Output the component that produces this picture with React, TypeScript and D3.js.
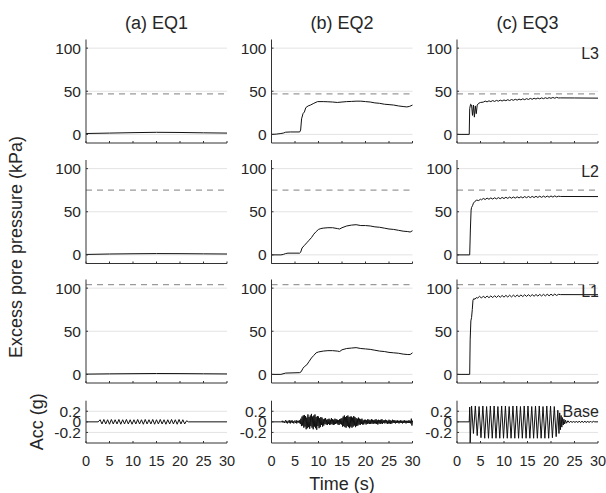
import React from 'react';
import * as d3 from 'd3';

// ---------- data ----------
const timeTicks = [0, 5, 10, 15, 20, 25, 30];
const ppTicks = [0, 50, 100];
const accTicks = [-0.2, 0, 0.2];
const accTickLabels = ['-0.2', '0', '0.2'];
const columnTitles = ['(a) EQ1', '(b) EQ2', '(c) EQ3'];
const layerLabels = ['L3', 'L2', 'L1'];
const baseLabel = 'Base';
const initialStress = [47, 75, 104]; // dashed reference lines per layer (kPa)

// EQ1 excess pore pressure [t (s), kPa]
const eq1L3: [number, number][] = [[0, 1], [5, 1.5], [10, 2], [15, 2.4], [20, 2.2], [25, 1.8], [30, 1.5]];
const eq1L2: [number, number][] = [[0, 0.5], [5, 1], [10, 1.3], [15, 1.5], [20, 1.4], [25, 1.2], [30, 1]];
const eq1L1: [number, number][] = [[0, 0.3], [5, 0.6], [10, 0.8], [15, 1], [20, 0.9], [25, 0.7], [30, 0.5]];

// EQ2 excess pore pressure
const eq2L3: [number, number][] = [
  [0, 0], [1, 0.3], [2, 1], [2.5, 1.5], [3, 2.5], [4, 2.8], [5, 2.8], [6, 2.8], [6.2, 5], [6.4, 18], [6.7, 24],
  [7, 26], [7.3, 31], [7.8, 33], [8.3, 34], [9, 36], [9.8, 38], [11, 38], [12, 37.8], [13, 37.5], [14, 37],
  [15, 37.5], [16, 38], [17, 38.2], [18, 38.5], [19, 38.5], [20, 38], [21, 37.5], [22, 36.5], [23, 36], [24, 35],
  [25, 34.5], [26, 34], [27, 33], [28, 32.3], [28.8, 31.8], [29.4, 32.5], [30, 34],
];
const eq2L2: [number, number][] = [
  [0, 0], [2, 0], [2.5, 0.5], [3, 1.5], [3.5, 2], [6, 2], [6.2, 3], [6.5, 8], [7, 11], [7.5, 14], [8, 17],
  [8.5, 20], [9, 24], [9.5, 27], [10, 29.5], [10.5, 30.5], [11, 31], [12, 31.5], [13, 31.5], [14, 30.5],
  [14.5, 30], [15, 31.5], [16, 33.5], [17, 34.5], [18, 35], [19, 34], [20, 34], [21, 33.5], [22, 32.5],
  [23, 32], [24, 31], [25, 30], [26, 29.5], [27, 28.5], [28, 27.5], [29, 27], [29.5, 26.5], [30, 28],
];
const eq2L1: [number, number][] = [
  [0, 0], [2, 0], [3, 1.5], [6, 2], [6.3, 3], [6.7, 7], [7, 9], [7.5, 11], [8, 15], [8.5, 19], [9, 22],
  [9.5, 25], [10, 26], [11, 27], [12, 27.5], [13, 27.5], [14, 27], [14.5, 26.5], [15, 28.5], [16, 30],
  [17, 30.5], [18, 31], [19, 30], [20, 29.5], [21, 29], [22, 28], [23, 27], [24, 26.5], [25, 25.5],
  [26, 25], [27, 24.5], [28, 23.5], [29, 23], [29.5, 23], [30, 25],
];

// EQ3 excess pore pressure
const eq3L3: [number, number][] = [
  [0, 0], [2.6, 0], [2.7, 30], [2.9, 35], [3.1, 34], [3.3, 22], [3.5, 34], [3.7, 20], [3.9, 33], [4.1, 24],
  [4.3, 34], [4.6, 36], [5, 37], [5.6, 37.4], [6.0, 38.6], [6.4, 37.7], [6.8, 38.9], [7.2, 38.0], [7.6, 39.2],
  [8.0, 38.2], [8.4, 39.4], [8.8, 38.5], [9.2, 39.7], [9.6, 38.7], [10.0, 39.9], [10.4, 39.0], [10.8, 40.2],
  [11.2, 39.2], [11.6, 40.4], [12.0, 39.5], [12.4, 40.7], [12.8, 39.7], [13.2, 40.9], [13.6, 40.0], [14.0, 41.2],
  [14.4, 40.2], [14.8, 41.4], [15.2, 40.5], [15.6, 41.7], [16.0, 40.7], [16.4, 41.9], [16.8, 41.0], [17.2, 42.1],
  [17.6, 41.2], [18.0, 42.3], [18.4, 41.4], [18.8, 42.5], [19.2, 41.6], [19.6, 42.6], [20.0, 41.8], [20.4, 42.8],
  [20.8, 41.9], [21.2, 42.9], [21.6, 42.2], [22, 42.3], [25, 42.2], [30, 42.0],
];
const eq3L2: [number, number][] = [
  [0, 0], [2.6, 0], [2.7, 0], [2.85, 30], [3.0, 52], [3.1, 55], [3.3, 57], [3.5, 60], [3.8, 62], [4.2, 63.5],
  [4.6, 63], [5.0, 64.5], [5.2, 63.8], [5.6, 65.4], [6.0, 64.2], [6.4, 65.8], [6.8, 64.5], [7.2, 66.0],
  [7.6, 64.7], [8.0, 66.2], [8.4, 64.9], [8.8, 66.4], [9.2, 65.1], [9.6, 66.6], [10.0, 65.3], [10.4, 66.8],
  [10.8, 65.5], [11.2, 67.0], [11.6, 65.7], [12.0, 67.1], [12.4, 65.8], [12.8, 67.3], [13.2, 66.0], [13.6, 67.4],
  [14.0, 66.1], [14.4, 67.6], [14.8, 66.3], [15.2, 67.7], [15.6, 66.4], [16.0, 67.8], [16.4, 66.5], [16.8, 67.9],
  [17.2, 66.6], [17.6, 68.0], [18.0, 66.7], [18.4, 68.1], [18.8, 66.8], [19.2, 68.2], [19.6, 66.9], [20.0, 68.3],
  [20.4, 67.0], [20.8, 68.4], [21.2, 67.2], [21.6, 68.0], [22, 67.7], [30, 67.6],
];
const eq3L1: [number, number][] = [
  [0, 0], [2.6, 0], [2.7, 0], [2.8, 40], [2.95, 62], [3.1, 66], [3.25, 75], [3.4, 86], [3.6, 88], [3.8, 87],
  [4.1, 89], [4.4, 88.5], [4.8, 90.5], [5.2, 88.5], [5.6, 90.7], [6.0, 88.7], [6.4, 90.9], [6.8, 88.9],
  [7.2, 91.0], [7.6, 89.0], [8.0, 91.2], [8.4, 89.2], [8.8, 91.3], [9.2, 89.4], [9.6, 91.5], [10.0, 89.5],
  [10.4, 91.6], [10.8, 89.7], [11.2, 91.8], [11.6, 89.8], [12.0, 91.9], [12.4, 90.0], [12.8, 92.0], [13.2, 90.1],
  [13.6, 92.1], [14.0, 90.2], [14.4, 92.3], [14.8, 90.4], [15.2, 92.4], [15.6, 90.5], [16.0, 92.5], [16.4, 90.6],
  [16.8, 92.6], [17.2, 90.8], [17.6, 92.7], [18.0, 90.9], [18.4, 92.8], [18.8, 91.0], [19.2, 92.9], [19.6, 91.1],
  [20.0, 93.0], [20.4, 91.3], [20.8, 93.1], [21.2, 91.5], [21.6, 92.8], [22, 92.5], [30, 92.4],
];

// EQ1 base acceleration: peaks every 0.4 s starting at 2.6 s (g)
const acc1Start = 2.6;
const acc1Step = 0.4;
const acc1Peaks = [
  0, 0.04, -0.04, 0.045, -0.04, 0.04, -0.045, 0.045, -0.04, 0.04, -0.04, 0.045, -0.045, 0.04, -0.04, 0.045,
  -0.04, 0.04, -0.045, 0.04, -0.04, 0.045, -0.04, 0.04, -0.045, 0.045, -0.04, 0.04, -0.04, 0.045, -0.045, 0.04,
  -0.04, 0.045, -0.04, 0.04, -0.045, 0.04, -0.04, 0.045, -0.04, 0.04, -0.045, 0.045, -0.04, 0.04, -0.04, 0.02, 0,
];

// EQ2 base acceleration: samples every 0.125 s from 2 s (g)
const acc2Start = 2;
const acc2Step = 0.125;
const acc2Values = [
  0, 0.01, -0.01, 0.02, -0.01, 0.01, -0.02, 0.01,
  0.03, -0.02, 0.02, -0.03, 0.01, 0.02, -0.02, 0.03,
  -0.03, 0.02, -0.01, 0.03, -0.02, 0.01, -0.03, 0.02,
  0.01, -0.02, 0.03, -0.03, 0.02, -0.01, 0.02, -0.02,
  0.03, -0.04, 0.06, -0.08, 0.10, -0.07, 0.12, -0.11,
  0.13, -0.09, 0.11, -0.14, 0.08, -0.12, 0.14, -0.10,
  0.09, -0.13, 0.12, -0.08, 0.15, -0.11, 0.10, -0.14,
  0.12, -0.09, 0.14, -0.12, 0.09, -0.15, 0.11, -0.08,
  0.10, -0.12, 0.07, -0.10, 0.09, -0.06, 0.08, -0.09,
  0.05, -0.07, 0.06, -0.04, 0.07, -0.05, 0.04, -0.06,
  0.05, -0.04, 0.06, -0.06, 0.04, -0.05, 0.07, -0.04,
  0.05, -0.06, 0.04, -0.05, 0.06, -0.04, 0.05, -0.03,
  0.04, -0.05, 0.03, -0.06, 0.05, -0.04, 0.06, -0.05,
  0.07, -0.09, 0.10, -0.08, 0.12, -0.10, 0.09, -0.11,
  0.11, -0.08, 0.12, -0.10, 0.09, -0.12, 0.10, -0.09,
  0.10, -0.11, 0.08, -0.09, 0.11, -0.07, 0.09, -0.10,
  0.07, -0.08, 0.06, -0.07, 0.08, -0.05, 0.06, -0.06,
  0.05, -0.04, 0.06, -0.05, 0.03, -0.05, 0.04, -0.03,
  0.04, -0.05, 0.03, -0.04, 0.05, -0.03, 0.04, -0.04,
  0.03, -0.04, 0.05, -0.03, 0.04, -0.04, 0.03, -0.03,
  0.04, -0.03, 0.05, -0.04, 0.03, -0.05, 0.04, -0.03,
  0.03, -0.04, 0.04, -0.03, 0.05, -0.04, 0.03, -0.02,
  0.03, -0.03, 0.04, -0.02, 0.03, -0.04, 0.02, -0.03,
  0.04, -0.03, 0.03, -0.04, 0.02, -0.03, 0.04, -0.02,
  0.03, -0.02, 0.03, -0.03, 0.02, -0.02, 0.03, -0.02,
  0.02, -0.03, 0.02, -0.02, 0.03, -0.02, 0.02, -0.03,
  0.02, -0.02, 0.03, -0.02, 0.02, -0.03, 0.02, -0.02,
  0.02, -0.02, 0.03, -0.02, 0.02, -0.03, 0.06, -0.07,
  0.02,
];

// EQ3 base acceleration [t (s), g]
const acc3: [number, number][] = [
  [0, 0], [2.6, 0], [2.7, 0.28], [2.8, -0.4], [3.1, 0.3], [3.5, -0.22], [3.9, 0.3], [4.3, -0.26], [4.7, 0.29],
  [5.1, -0.3], [5.5, 0.3], [5.9, -0.31], [6.3, 0.29], [6.7, -0.31], [7.1, 0.3], [7.5, -0.31], [7.9, 0.3],
  [8.3, -0.31], [8.7, 0.29], [9.1, -0.31], [9.5, 0.3], [9.9, -0.31], [10.3, 0.3], [10.7, -0.31], [11.1, 0.29],
  [11.5, -0.31], [11.9, 0.3], [12.3, -0.31], [12.7, 0.3], [13.1, -0.31], [13.5, 0.29], [13.9, -0.31], [14.3, 0.3],
  [14.7, -0.31], [15.1, 0.3], [15.5, -0.31], [15.9, 0.29], [16.3, -0.31], [16.7, 0.3], [17.1, -0.31], [17.5, 0.3],
  [17.9, -0.31], [18.3, 0.29], [18.7, -0.31], [19.1, 0.3], [19.5, -0.31], [19.9, 0.3], [20.3, -0.3], [20.7, 0.29],
  [21.1, -0.28], [21.45, 0.22], [21.7, -0.22], [21.85, 0.17], [22.0, -0.15], [22.15, 0.12], [22.3, -0.1],
  [22.45, 0.08], [22.6, -0.06], [22.75, 0.05], [22.9, -0.04], [23.1, 0.03], [23.3, -0.025], [23.6, 0.02],
  [23.9, -0.015], [24.2, 0.015], [24.5, -0.015], [24.8, 0.015], [25.1, -0.015], [25.4, 0.015], [25.7, -0.015],
  [26.0, 0.015], [26.3, -0.015], [26.6, 0.015], [26.9, -0.015], [27.2, 0.015], [27.5, -0.015], [27.8, 0.015],
  [28.1, -0.015], [28.4, 0.015], [28.7, -0.012], [29.0, 0.01], [29.3, 0], [30, 0],
];

// ---------- layout ----------
const colX = [86, 271.5, 457];
const panelW = 141;
const rowTop = [39.5, 160, 279.5];
const panelH = 103.5;
const accTop = 400.7;
const accH = 42.3;

const FONT = '"Liberation Sans", Arial, Helvetica, sans-serif';
const AXIS = '#333333';
const GRID = '#e3e3e3';

type Pt = [number, number];

function fromSteps(start: number, step: number, vals: number[]): Pt[] {
  const pts: Pt[] = [[0, 0]];
  vals.forEach((v, i) => pts.push([start + i * step, v]));
  pts.push([30, 0]);
  return pts;
}

const ppSeries: Pt[][][] = [
  [eq1L3, eq1L2, eq1L1],
  [eq2L3, eq2L2, eq2L1],
  [eq3L3, eq3L2, eq3L1],
];
const accSeries: Pt[][] = [
  fromSteps(acc1Start, acc1Step, acc1Peaks),
  fromSteps(acc2Start, acc2Step, acc2Values),
  acc3,
];

function Panel(props: {
  x0: number; y0: number; h: number; domain: [number, number]; yTicks: number[]; yLabels: string[];
  gridTicks: number[]; data: Pt[]; dashed?: number; xLabels: boolean; tag?: string; tagDy: number; fs: number;
}) {
  const { x0, y0, h, domain, yTicks, yLabels, gridTicks, data, dashed, xLabels, tag, tagDy, fs } = props;
  const x = d3.scaleLinear().domain([0, 30]).range([x0, x0 + panelW]);
  const y = d3.scaleLinear().domain(domain).range([y0 + h, y0]);
  const line = d3.line<Pt>().x(d => x(d[0])).y(d => y(d[1]));
  const yb = y0 + h;
  return (
    <g>
      {gridTicks.map(t => (
        <line key={'g' + t} x1={x0} x2={x0 + panelW} y1={y(t)} y2={y(t)} stroke={GRID} strokeWidth={1} />
      ))}
      {dashed !== undefined && (
        <line x1={x0} x2={x0 + panelW} y1={y(dashed)} y2={y(dashed)} stroke="#9a9a9a" strokeWidth={1.3} strokeDasharray="6,5" />
      )}
      <path d={line(data) || ''} fill="none" stroke="#111" strokeWidth={1} strokeLinejoin="round" />
      <line x1={x0} x2={x0} y1={y0} y2={yb} stroke={AXIS} strokeWidth={1} />
      <line x1={x0} x2={x0 + panelW} y1={yb} y2={yb} stroke={AXIS} strokeWidth={1} />
      {timeTicks.map(t => (
        <line key={'xt' + t} x1={x(t)} x2={x(t)} y1={yb} y2={yb - 2} stroke={AXIS} strokeWidth={1} />
      ))}
      {yTicks.map((t, i) => (
        <g key={'yt' + t}>
          <line x1={x0} x2={x0 + 2} y1={y(t)} y2={y(t)} stroke={AXIS} strokeWidth={1} />
          <text x={x0 - 5} y={y(t)} textAnchor="end" dominantBaseline="central" fontSize={fs} fill="#262626" fontFamily={FONT}>
            {yLabels[i]}
          </text>
        </g>
      ))}
      {xLabels && timeTicks.map(t => (
        <text key={'xl' + t} x={x(t)} y={yb + 18} textAnchor="middle" dominantBaseline="central" fontSize={14.5} fill="#262626" fontFamily={FONT}>
          {t}
        </text>
      ))}
      {tag && (
        <text x={x0 + panelW + 1} y={y0 + tagDy} textAnchor="end" fontSize={16} fill="#262626" fontFamily={FONT}>
          {tag}
        </text>
      )}
    </g>
  );
}

export default function App() {
  return (
    <div style={{ position: 'absolute', left: 0, top: 0 }}>
      <svg width={606} height={493} viewBox="0 0 606 493" style={{ display: 'block', background: '#fff' }}>
        <rect x={0} y={0} width={606} height={493} fill="#fff" />
        {columnTitles.map((t, c) => (
          <text key={t} x={colX[c] + panelW / 2} y={29} textAnchor="middle" fontSize={18} fill="#262626" fontFamily={FONT}>
            {t}
          </text>
        ))}
        {columnTitles.map((_, c) => (
          <g key={'col' + c}>
            {rowTop.map((top, r) => (
              <Panel
                key={'p' + r}
                x0={colX[c]}
                y0={top}
                h={panelH}
                domain={[-10, 110]}
                yTicks={ppTicks}
                yLabels={ppTicks.map(String)}
                gridTicks={ppTicks}
                data={ppSeries[c][r]}
                dashed={initialStress[r]}
                xLabels={false}
                tag={c === 2 ? layerLabels[r] : undefined}
                tagDy={r === 0 ? 19.8 : 17}
                fs={15.5}
              />
            ))}
            <Panel
              x0={colX[c]}
              y0={accTop}
              h={accH}
              domain={[-0.4, 0.4]}
              yTicks={accTicks}
              yLabels={accTickLabels}
              gridTicks={[-0.2, 0.2]}
              data={accSeries[c]}
              xLabels={true}
              tag={c === 2 ? baseLabel : undefined}
              tagDy={16}
              fs={15.5}
            />
          </g>
        ))}
        <text
          transform={`translate(16,${247}) rotate(-90)`}
          textAnchor="middle"
          dominantBaseline="central"
          fontSize={18}
          fill="#262626"
          fontFamily={FONT}
        >
          Excess pore pressure (kPa)
        </text>
        <text
          transform={`translate(37,${accTop + accH / 2}) rotate(-90)`}
          textAnchor="middle"
          dominantBaseline="central"
          fontSize={18}
          fill="#262626"
          fontFamily={FONT}
        >
          Acc (g)
        </text>
        <text x={colX[1] + panelW / 2} y={484} textAnchor="middle" dominantBaseline="central" fontSize={18} fill="#262626" fontFamily={FONT}>
          Time (s)
        </text>
      </svg>
    </div>
  );
}
